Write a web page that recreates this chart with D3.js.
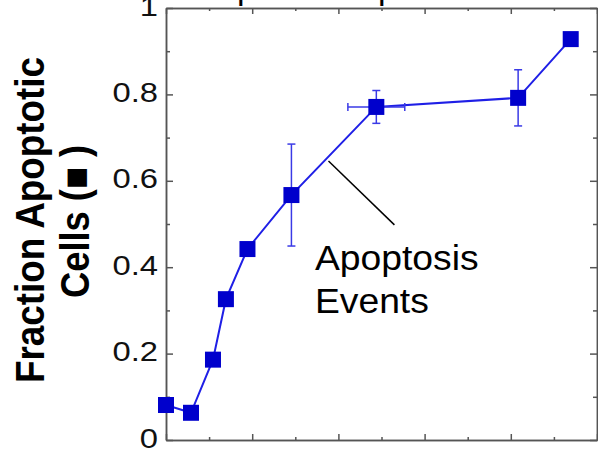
<!DOCTYPE html>
<meta charset="utf-8">
<style>
body { margin: 0; background: #fff; }
text { font-family: "Liberation Sans", Arial, sans-serif; }
.axis path, .axis line { stroke: #555; stroke-width: 1.5; }
</style>
<body>
<script src="https://d3js.org/d3.v7.min.js"></script>
<script>
// values
var xVals = [0, 0.58, 1.09, 1.39, 1.89, 2.91, 4.88, 8.17, 9.39];
var fracApoptotic = [0.081, 0.063, 0.186, 0.326, 0.442, 0.567, 0.771, 0.792, 0.928];
var yErr = [0, 0, 0, 0, 0, 0.118, 0.038, 0.065, 0];
var xErr = [0, 0, 0, 0, 0, 0, 0.66, 0, 0];

var yMajor = [0, 0.2, 0.4, 0.6, 0.8, 1];
var yMinor = [0.1, 0.3, 0.5, 0.7, 0.9];
var xMajor = [0, 2, 4, 6, 8, 10];
var xMinor = [1, 3, 5, 7, 9];

var margin = {top: 8, right: 1, bottom: 10, left: 166},
    width = 598 - margin.left - margin.right,
    height = 450 - margin.top - margin.bottom;

var x = d3.scaleLinear().domain([0, 10]).range([0, width]);
var y = d3.scaleLinear().domain([0, 1]).range([height, 0]);

var root = d3.select("body").append("svg")
    .attr("width", 598)
    .attr("height", 450);

var svg = root.append("g")
    .attr("transform", "translate(" + margin.left + "," + margin.top + ")");

var fmt = function(d) { return (d === 0 || d === 1) ? d : d.toFixed(1); };

// axes, ticks pointing inward
svg.append("g").attr("class", "axis")
    .call(d3.axisLeft(y).tickValues(yMinor).tickSize(-4).tickSizeOuter(0).tickFormat(""));
var yAxis = svg.append("g").attr("class", "axis y")
    .call(d3.axisLeft(y).tickValues(yMajor).tickSizeInner(-7).tickSizeOuter(0).tickPadding(8).tickFormat(fmt));

svg.append("g").attr("class", "axis")
    .attr("transform", "translate(" + width + ",0)")
    .call(d3.axisRight(y).tickValues(yMinor).tickSize(-4).tickSizeOuter(0).tickFormat(""));
svg.append("g").attr("class", "axis")
    .attr("transform", "translate(" + width + ",0)")
    .call(d3.axisRight(y).tickValues(yMajor).tickSize(-7).tickSizeOuter(0).tickFormat(""));

svg.append("g").attr("class", "axis")
    .attr("transform", "translate(0," + height + ")")
    .call(d3.axisBottom(x).tickValues(xMinor).tickSize(-3).tickSizeOuter(0).tickFormat(""));
svg.append("g").attr("class", "axis")
    .attr("transform", "translate(0," + height + ")")
    .call(d3.axisBottom(x).tickValues(xMajor).tickSize(-6).tickSizeOuter(0).tickFormat(""));

svg.append("g").attr("class", "axis")
    .call(d3.axisTop(x).tickValues(xMinor).tickSize(-3).tickSizeOuter(0).tickFormat(""));
svg.append("g").attr("class", "axis")
    .call(d3.axisTop(x).tickValues(xMajor).tickSize(-6).tickSizeOuter(0).tickFormat(""));

yAxis.selectAll("text")
    .attr("dy", "0.25em")
    .style("font-size", "28px")
    .style("font-family", '"Liberation Sans", Arial, sans-serif')
    .attr("fill", "#111")
    .each(function() {
        var w = this.getComputedTextLength();
        d3.select(this).attr("textLength", w * 1.17).attr("lengthAdjust", "spacingAndGlyphs");
    });

// y axis title
root.append("text")
    .attr("transform", "translate(44,220) rotate(-90)")
    .attr("text-anchor", "middle")
    .attr("font-weight", "bold")
    .attr("font-size", 40)
    .attr("textLength", 326)
    .attr("lengthAdjust", "spacingAndGlyphs")
    .text("Fraction Apoptotic");
root.append("text")
    .attr("transform", "translate(89,221.5) rotate(-90)")
    .attr("text-anchor", "middle")
    .attr("font-weight", "bold")
    .attr("font-size", 40)
    .attr("textLength", 153)
    .attr("lengthAdjust", "spacingAndGlyphs")
    .text("Cells (\u25A0 )");

// bits of the text above the panel, cut off by the crop
root.append("text")
    .attr("font-size", 34)
    .attr("y", -1)
    .selectAll("tspan")
    .data([237, 378])
  .enter().append("tspan")
    .attr("x", function(d) { return d; })
    .text("p");

var pts = xVals.map(function(d, i) {
    return {x: d, y: fracApoptotic[i], ey: yErr[i], ex: xErr[i]};
});

// connecting line
svg.append("path")
    .datum(pts)
    .attr("fill", "none")
    .attr("stroke", "#1f1fe6")
    .attr("stroke-width", 2)
    .attr("d", d3.line().x(function(d) { return x(d.x); }).y(function(d) { return y(d.y); }));

// error bars
var eb = svg.append("g").attr("stroke", "#3a3ae6").attr("stroke-width", 1.5);
pts.filter(function(d) { return d.ey > 0; }).forEach(function(d) {
    var cx = x(d.x);
    eb.append("line").attr("x1", cx).attr("x2", cx).attr("y1", y(d.y - d.ey)).attr("y2", y(d.y + d.ey));
    eb.append("line").attr("x1", cx - 4).attr("x2", cx + 4).attr("y1", y(d.y - d.ey)).attr("y2", y(d.y - d.ey));
    eb.append("line").attr("x1", cx - 4).attr("x2", cx + 4).attr("y1", y(d.y + d.ey)).attr("y2", y(d.y + d.ey));
});
pts.filter(function(d) { return d.ex > 0; }).forEach(function(d) {
    var cy = y(d.y);
    eb.append("line").attr("x1", x(d.x - d.ex)).attr("x2", x(d.x + d.ex)).attr("y1", cy).attr("y2", cy);
    eb.append("line").attr("x1", x(d.x - d.ex)).attr("x2", x(d.x - d.ex)).attr("y1", cy - 4).attr("y2", cy + 4);
    eb.append("line").attr("x1", x(d.x + d.ex)).attr("x2", x(d.x + d.ex)).attr("y1", cy - 4).attr("y2", cy + 4);
});

// square markers
svg.selectAll(".pt")
    .data(pts)
  .enter().append("rect")
    .attr("class", "pt")
    .attr("x", function(d) { return x(d.x) - 8; })
    .attr("y", function(d) { return y(d.y) - 8; })
    .attr("width", 16)
    .attr("height", 16)
    .attr("fill", "#0000cc");

// annotation
svg.append("line")
    .attr("x1", x(3.77)).attr("y1", y(0.646))
    .attr("x2", x(5.30)).attr("y2", y(0.498))
    .attr("stroke", "#000")
    .attr("stroke-width", 1.5);

svg.append("g")
    .selectAll("text")
    .data([["Apoptosis", 0.3935], ["Events", 0.294]])
  .enter().append("text")
    .attr("x", x(3.455))
    .attr("y", function(d) { return y(d[1]); })
    .attr("font-size", 35)
    .attr("fill", "#000")
    .text(function(d) { return d[0]; })
    .each(function() {
        var w = this.getComputedTextLength();
        d3.select(this).attr("textLength", w * 1.065).attr("lengthAdjust", "spacingAndGlyphs");
    });
</script>
</body>
